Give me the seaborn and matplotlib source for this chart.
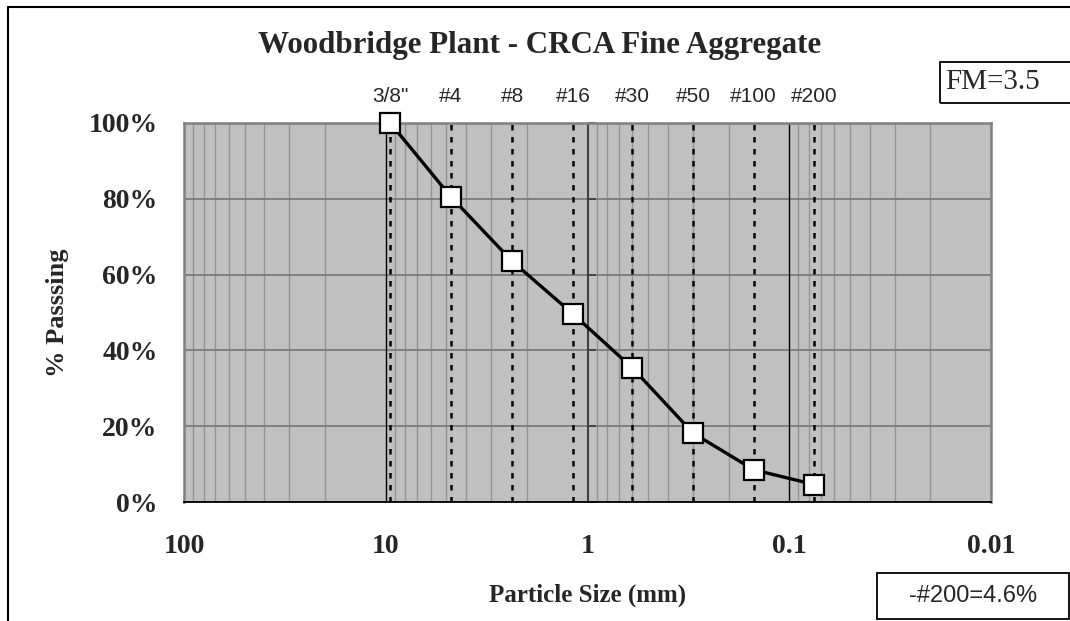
import matplotlib

matplotlib.use('Agg')
import matplotlib.pyplot as plt
import seaborn as sns
import numpy as np
from matplotlib.lines import Line2D
from matplotlib.patches import Rectangle
from matplotlib.ticker import FixedLocator, NullFormatter, FuncFormatter

# ── data ──────────────────────────────────────────────
sieve_names = ['3/8"', '#4', '#8', '#16', '#30', '#50', '#100', '#200']
sieve_mm = [9.5, 4.75, 2.36, 1.18, 0.6, 0.3, 0.15, 0.075]
passing = [100.0, 80.5, 63.5, 49.6, 35.4, 18.2, 8.5, 4.6]

title = 'Woodbridge Plant - CRCA Fine Aggregate'
fm_text = 'FM=3.5'
p200_text = '-#200=4.6%'
major_x = [100, 10, 1, 0.1, 0.01]
y_ticks = [0, 20, 40, 60, 80, 100]

SERIF = 'Liberation Serif'
SANS = 'Liberation Sans'
W, H = 1070, 621

sns.set_style('white')
plt.rcParams['font.family'] = [SERIF, 'DejaVu Serif']

fig = plt.figure(figsize=(W / 100, H / 100), dpi=100)
ax = fig.add_axes([184 / W, 1 - 502 / H, (991 - 184) / W, (502 - 123) / H])
ax.set_facecolor('#C0C0C0')

ax.set_xscale('log')
ax.set_xlim(100, 0.01)
ax.set_ylim(0, 100)

# minor vertical grid
ax.xaxis.set_minor_locator(FixedLocator([m * 10.0 ** e for e in range(-2, 2) for m in range(2, 10)]))
ax.xaxis.set_minor_formatter(NullFormatter())
ax.grid(which='minor', axis='x', color='#939393', lw=1.0)
ax.set_yticks(y_ticks)
ax.grid(which='major', axis='y', color='#808080', lw=1.4)
ax.set_axisbelow(True)

for xv in [10, 0.1]:
    ax.axvline(xv, color='black', lw=1.0, zorder=1.5)
ax.axvline(1, color='#404040', lw=1.5, zorder=1.5)
ax.plot([1] * len(y_ticks), y_ticks, linestyle='none', marker=1, markersize=6,
        markeredgewidth=1.3, color='#404040', zorder=1.6, clip_on=False)

# sieve lines
for s in sieve_mm:
    ax.axvline(s, color='black', lw=1.8, linestyle=(0, (2.2, 2.6)), zorder=1.7)

sns.lineplot(x=sieve_mm, y=passing, ax=ax, color='black', lw=2.4, marker='s',
             markersize=14, markerfacecolor='white', markeredgecolor='black',
             markeredgewidth=1.6, sort=False, zorder=3, clip_on=False)

# sieve labels above plot
for name, s in zip(sieve_names, sieve_mm):
    ax.text(s, 1.07, name, transform=ax.get_xaxis_transform(), ha='center', va='center',
            fontsize=15, family=[SANS, 'DejaVu Sans'])

# axes styling
for side in ['top', 'left', 'right']:
    ax.spines[side].set_color('#808080')
    ax.spines[side].set_linewidth(1.8)
ax.spines['bottom'].set_color('black')
ax.spines['bottom'].set_linewidth(1.3)

ax.xaxis.set_major_locator(FixedLocator(major_x))
ax.xaxis.set_major_formatter(FuncFormatter(lambda v, p: f'{v:g}'))
ax.tick_params(axis='x', which='major', direction='out', length=7, width=1.2, color='black',
               labelsize=20, pad=16)
ax.tick_params(axis='x', which='minor', direction='in', length=6, width=1.0, color='black')
ax.tick_params(axis='y', length=0, labelsize=20, pad=19)
ax.yaxis.set_major_formatter(FuncFormatter(lambda v, p: f'{v:.0f}%'))
for lab in ax.get_xticklabels() + ax.get_yticklabels():
    lab.set_fontweight('bold')

ax.set_xlabel('Particle Size (mm)', fontsize=18, fontweight='bold', labelpad=18)
ax.set_ylabel('% Passsing', fontsize=19, fontweight='bold', labelpad=14)

fig.text(540 / W, 1 - 45 / H, title, ha='center', va='center', fontsize=22.3, fontweight='bold')

# outer frame (left + top edges)
fig.add_artist(Line2D([8 / W, 8 / W], [0, 1 - 7 / H], transform=fig.transFigure, color='black', lw=1.5))
fig.add_artist(Line2D([8 / W, 1], [1 - 7 / H, 1 - 7 / H], transform=fig.transFigure, color='black', lw=1.5))

# text boxes
fig.add_artist(Rectangle((940 / W, 1 - 103 / H), 140 / W, 41 / H, transform=fig.transFigure,
                         fill=False, edgecolor='black', lw=1.3))
fig.text(945 / W, 1 - 82 / H, fm_text, ha='left', va='center', fontsize=21)
fig.add_artist(Rectangle((877 / W, 1 - 619 / H), 192 / W, 46 / H, transform=fig.transFigure,
                         fill=False, edgecolor='black', lw=1.3))
fig.text(973 / W, 1 - 596 / H, p200_text, ha='center', va='center', fontsize=17,
         family=[SANS, 'DejaVu Sans'])

plt.savefig('out.png', dpi=100)
